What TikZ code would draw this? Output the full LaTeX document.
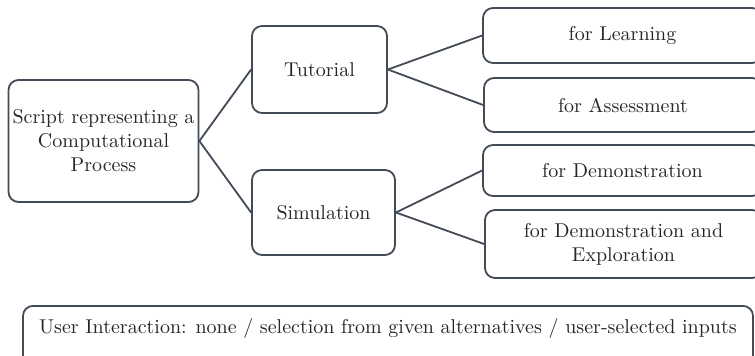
\documentclass[tikz,border=0pt]{standalone}
\usepackage{tikz}

\definecolor{boxline}{HTML}{434B57}
\definecolor{boxtext}{HTML}{262626}

\tikzset{
  box/.style={draw=boxline, line width=0.9pt, rounded corners=5pt,
    align=center, text=boxtext, inner sep=2pt},
  link/.style={draw=boxline, line width=0.9pt}
}

\begin{document}
\begin{tikzpicture}[x=0.5pt, y=-0.5pt]

% frame of the picture
\useasboundingbox (0,0) rectangle (755,355);
\clip (0,0) rectangle (755,355);

% left column
\node[box, minimum width=93.5pt, minimum height=61pt] (script) at (103.5,141)
  {Script representing a\\Computational\\Process};

% middle column
\node[box, minimum width=67.5pt, minimum height=43.5pt] (tutorial) at (319.5,69.5) {Tutorial};
\node[box, minimum width=71.5pt, minimum height=42.5pt] (simulation) at (323.5,212.5) {Simulation};

% right column (runs off the right edge)
\node[box, minimum width=139.5pt, minimum height=27.5pt] (learning) at (622.5,35.5) {for Learning};
\node[box, minimum width=139pt, minimum height=27pt] (assessment) at (623,105) {for Assessment};
\node[box, minimum width=139.5pt, minimum height=25.5pt] (demo) at (622.5,170.5) {for Demonstration};
\node[box, minimum width=138.5pt, minimum height=34pt] (demoexpl) at (623.5,244)
  {for Demonstration and\\Exploration};

% bottom strip (runs off the bottom edge)
\node[box, minimum width=365pt, inner ysep=5pt, text height=9pt, text depth=11pt,
  anchor=north] (interaction) at (388,305)
  {User Interaction: none / selection from given alternatives / user-selected inputs};

% connectors
\foreach \to in {tutorial,simulation}
  \draw[link] (script.east) -- (\to.west);
\foreach \to in {learning,assessment}
  \draw[link] (tutorial.east) -- (\to.west);
\foreach \to in {demo,demoexpl}
  \draw[link] (simulation.east) -- (\to.west);

\end{tikzpicture}
\end{document}
